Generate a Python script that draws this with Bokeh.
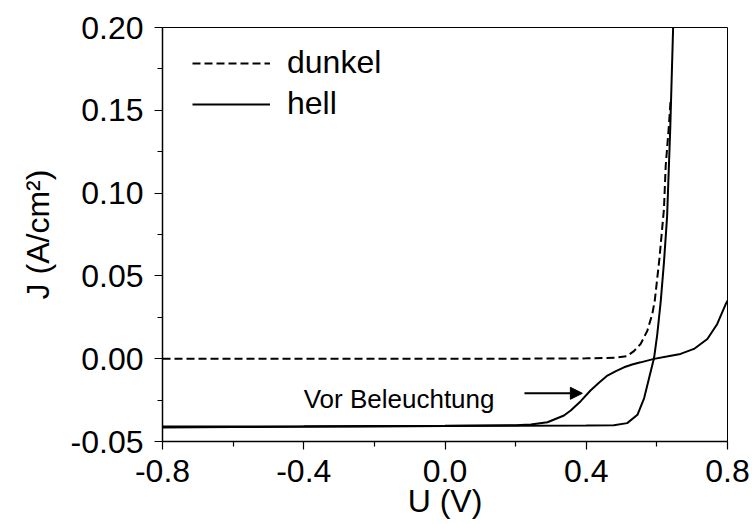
from bokeh.plotting import figure
from bokeh.models import Range1d, FixedTicker, PrintfTickFormatter, Legend, LegendItem, Label, Arrow, NormalHead
from bokeh.embed import file_html
from bokeh.resources import INLINE

# ---- data ----
u_dunkel = [-0.8, -0.6, -0.4, -0.2, 0.0, 0.2, 0.4, 0.48, 0.516, 0.535, 0.554, 0.573,
            0.587, 0.594, 0.607, 0.620, 0.625, 0.634, 0.639]
j_dunkel = [0.0, 0.0, 0.0, 0.0, 0.0, 0.0, 0.0002, 0.0006, 0.0016, 0.0046, 0.0089, 0.0169,
            0.027, 0.035, 0.060, 0.0903, 0.1165, 0.1406, 0.1567]

u_hell = [-0.8, -0.6, -0.4, -0.2, 0.0, 0.2, 0.4, 0.478, 0.516, 0.545, 0.564, 0.578,
          0.592, 0.601, 0.611, 0.620, 0.629, 0.638, 0.646]
j_hell = [-0.0415, -0.0413, -0.0411, -0.0409, -0.0407, -0.0405, -0.0404, -0.0402, -0.0389,
          -0.0339, -0.0238, -0.0117, 0.0004, 0.0146, 0.0348, 0.058, 0.086, 0.140, 0.200]

u_vor = [-0.8, -0.6, -0.4, -0.2, 0.0, 0.2, 0.243, 0.290, 0.337, 0.356, 0.385, 0.412, 0.436,
         0.460, 0.484, 0.507, 0.530, 0.554, 0.592, 0.628, 0.667, 0.705, 0.743, 0.771, 0.795, 0.8]
j_vor = [-0.0410, -0.0409, -0.0408, -0.0406, -0.0405, -0.0402, -0.0397, -0.0384, -0.0343,
         -0.0313, -0.0255, -0.0192, -0.0145, -0.0102, -0.0075, -0.0052, -0.0035, -0.0022,
         -0.0001, 0.0013, 0.0029, 0.0059, 0.0119, 0.0210, 0.0330, 0.0350]

x_ticks = [-0.8, -0.4, 0.0, 0.4, 0.8]
x_minor = [-0.6, -0.2, 0.2, 0.6]
y_ticks = [-0.05, 0.0, 0.05, 0.10, 0.15, 0.20]
y_minor = [-0.025, 0.025, 0.075, 0.125, 0.175]

legend_labels = ["dunkel", "hell"]
note_text = "Vor Beleuchtung"
note_x, note_y = -0.13, -0.0241
arrow_x0, arrow_x1, arrow_y = 0.225, 0.389, -0.0209

FONT = "Liberation Sans"

p = figure(width=752, height=524,
           x_range=Range1d(-0.8, 0.8), y_range=Range1d(-0.05, 0.20),
           output_backend="svg", toolbar_location=None,
           min_border_left=162, min_border_right=25, min_border_top=27, min_border_bottom=83,
           x_axis_label="U (V)", y_axis_label="J (A/cm²)")
p.background_fill_color = "white"
p.border_fill_color = "white"
p.outline_line_color = "black"
p.outline_line_width = 1
p.xgrid.visible = False
p.ygrid.visible = False

p.xaxis.ticker = FixedTicker(ticks=x_ticks, minor_ticks=x_minor)
p.yaxis.ticker = FixedTicker(ticks=y_ticks, minor_ticks=y_minor)
p.xaxis.formatter = PrintfTickFormatter(format="%.1f")
p.yaxis.formatter = PrintfTickFormatter(format="%.2f")

for ax in (p.xaxis[0], p.yaxis[0]):
    ax.axis_line_width = 1.5
    ax.axis_line_color = "black"
    ax.major_tick_in = 0
    ax.major_tick_out = 8
    ax.minor_tick_in = 0
    ax.minor_tick_out = 5
    ax.major_tick_line_width = 1.2
    ax.minor_tick_line_width = 1.2
    ax.major_tick_line_color = "black"
    ax.minor_tick_line_color = "black"
    ax.major_label_text_font = FONT
    ax.major_label_text_font_size = "32px"
    ax.major_label_text_color = "black"
    ax.axis_label_text_font = FONT
    ax.axis_label_text_font_size = "32px"
    ax.axis_label_text_font_style = "normal"
    ax.axis_label_text_color = "black"

p.xaxis.major_label_standoff = 10
p.xaxis.axis_label_standoff = -2
p.yaxis.major_label_standoff = 11
p.yaxis.axis_label_standoff = 12

r_d = p.line(u_dunkel, j_dunkel, line_color="black", line_width=2, line_dash="8 4")
r_h = p.line(u_hell, j_hell, line_color="black", line_width=2)
r_v = p.line(u_vor, j_vor, line_color="black", line_width=2)

legend = Legend(items=[LegendItem(label=legend_labels[0], renderers=[r_d]),
                       LegendItem(label=legend_labels[1], renderers=[r_h])],
                location=(30, 319), glyph_width=78, glyph_height=36, label_height=36,
                label_standoff=17, spacing=4, padding=0, margin=0,
                border_line_color=None, background_fill_alpha=0,
                label_text_font=FONT, label_text_font_size="32px", label_text_color="black")
p.add_layout(legend)

p.add_layout(Label(x=note_x, y=note_y, text=note_text, text_align="center",
                   text_baseline="alphabetic", text_font=FONT, text_font_size="26px",
                   text_color="black"))
p.add_layout(Arrow(x_start=arrow_x0, y_start=arrow_y, x_end=arrow_x1, y_end=arrow_y,
                   line_width=2, line_color="black",
                   end=NormalHead(size=12, fill_color="black", line_color="black")))

open("out.html", "w").write(file_html(p, INLINE))
